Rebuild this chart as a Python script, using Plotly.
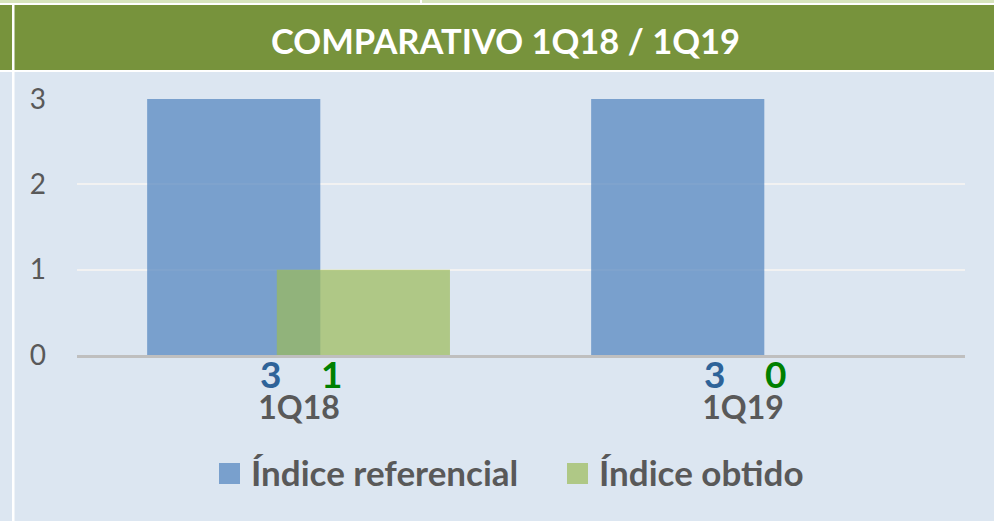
import plotly.graph_objects as go

categories = ["1Q18", "1Q19"]
referencial = [3, 3]
obtido = [1, 0]
series_names = ["Índice referencial", "Índice obtido"]
y_ticks = [0, 1, 2, 3]
title_text = "COMPARATIVO 1Q18 / 1Q19"

W, H = 994, 521
ML, MR, MT, MB = 77, 29, 99, 166
PW = W - ML - MR
PH = H - MT - MB

def px(x):
    return (x - ML) / PW

def py(y):
    return (H - MB - y) / PH

BLUE = "#4f81bd"
GREEN = "#9bbb59"
BG = "#dce6f1"
FONT = "Lato"

fig = go.Figure()
fig.add_trace(go.Bar(x=categories, y=referencial, name=series_names[0],
                     marker=dict(color=BLUE, line=dict(width=0)), opacity=0.7,
                     width=0.39, offset=-0.342, hoverinfo="skip"))
fig.add_trace(go.Bar(x=categories, y=obtido, name=series_names[1],
                     marker=dict(color=GREEN, line=dict(width=0)), opacity=0.7,
                     width=0.39, offset=-0.05, hoverinfo="skip"))

shapes = [
    dict(type="rect", xref="paper", yref="paper", x0=px(0), x1=px(W), y0=py(0), y1=py(3),
         fillcolor="#d7e4bd", line=dict(width=0), layer="below"),
    dict(type="rect", xref="paper", yref="paper", x0=px(0), x1=px(W), y0=py(3), y1=py(5),
         fillcolor="white", line=dict(width=0), layer="below"),
    dict(type="rect", xref="paper", yref="paper", x0=px(0), x1=px(W), y0=py(5), y1=py(70),
         fillcolor="#77933c", line=dict(width=0), layer="below"),
    dict(type="rect", xref="paper", yref="paper", x0=px(0), x1=px(W), y0=py(70), y1=py(72),
         fillcolor="white", line=dict(width=0), layer="below"),
    dict(type="rect", xref="paper", yref="paper", x0=px(12), x1=px(14.5), y0=py(5), y1=py(H),
         fillcolor="white", line=dict(width=0), layer="below"),
    dict(type="rect", xref="paper", yref="paper", x0=px(420), x1=px(422), y0=py(0), y1=py(5),
         fillcolor="white", line=dict(width=0), layer="below"),
]

annotations = [
    dict(text=f"<b>{title_text}</b>", xref="paper", yref="paper", x=px(505), y=py(40),
         showarrow=False, font=dict(family=FONT, size=34.5, color="white"),
         xanchor="center", yanchor="middle"),
]

label_blue = "#2e6399"
label_green = "#008000"
for i, c in enumerate(categories):
    annotations.append(dict(text=f"<b>{referencial[i]}</b>", x=c, y=0, xref="x", yref="y",
                            showarrow=False, xshift=-29, yshift=-18, yanchor="middle",
                            font=dict(family=FONT, size=37, color=label_blue)))
    annotations.append(dict(text=f"<b>{obtido[i]}</b>", x=c, y=0, xref="x", yref="y",
                            showarrow=False, xshift=32, yshift=-18, yanchor="middle",
                            font=dict(family=FONT, size=37, color=label_green)))

# custom legend
leg = [(219, BLUE, series_names[0]), (567, GREEN, series_names[1])]
for x0, col, name in leg:
    shapes.append(dict(type="rect", xref="paper", yref="paper", x0=px(x0), x1=px(x0 + 21),
                       y0=py(463), y1=py(484), fillcolor=col, opacity=0.7, line=dict(width=0)))
    annotations.append(dict(text=f"<b>{name}</b>", xref="paper", yref="paper",
                            x=px(x0 + 30), y=py(472), xanchor="left", yanchor="middle",
                            showarrow=False, font=dict(family=FONT, size=35, color="#595959")))

fig.update_layout(
    width=W, height=H,
    margin=dict(l=ML, r=MR, t=MT, b=MB, pad=0),
    paper_bgcolor=BG, plot_bgcolor=BG,
    barmode="overlay",
    showlegend=False,
    shapes=shapes,
    annotations=annotations,
    xaxis=dict(showgrid=False, showline=True, linecolor="#bfbfbf", linewidth=3,
               ticks="", tickfont=dict(family=FONT, size=32, color="#595959"),
               ticklabelstandoff=23, tickprefix="<b>", ticksuffix="</b>", fixedrange=True),
    yaxis=dict(range=[0, 3], tickvals=y_ticks, showgrid=True, gridcolor="#f2f2f2", gridwidth=2,
               zeroline=False, showline=False, ticks="",
               tickfont=dict(family=FONT, size=28, color="#595959"),
               ticklabelstandoff=30, fixedrange=True),
)

fig.write_html("out.html", config={"displayModeBar": False},
               post_script="document.body.style.margin='0px';document.body.style.overflow='hidden';")
